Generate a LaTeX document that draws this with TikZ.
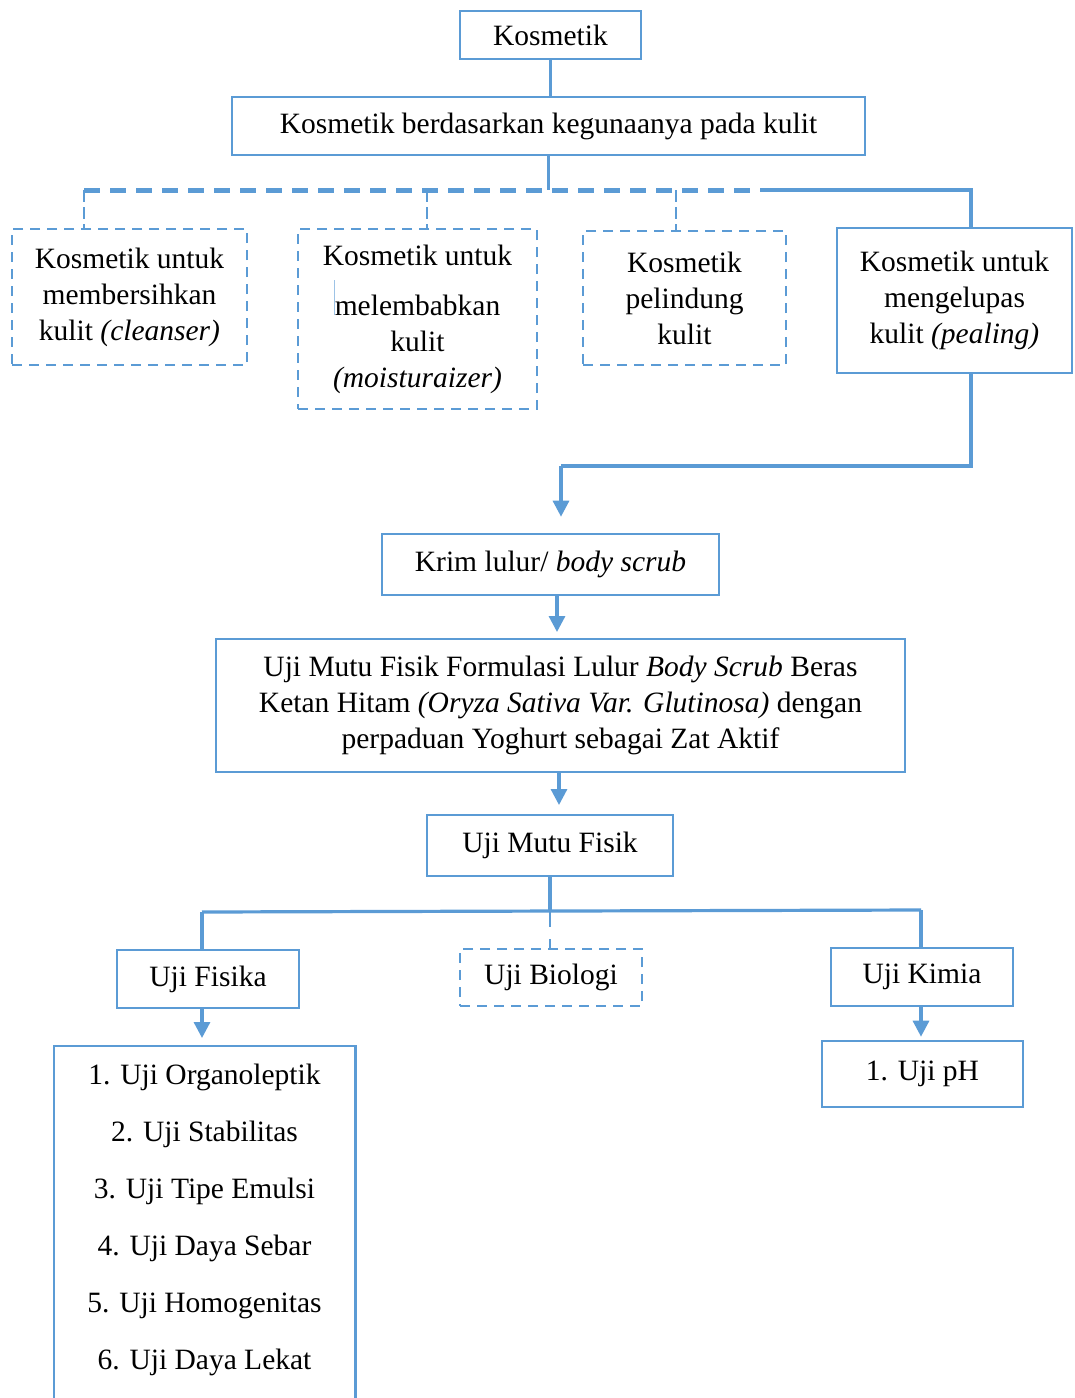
\documentclass[tikz,border=0pt]{standalone}
\usepackage{fontspec}
\setmainfont{Liberation Serif}
\usetikzlibrary{arrows.meta}
\definecolor{lineblue}{HTML}{5B9BD5}
\begin{document}
\begin{tikzpicture}[x = 1pt, y = -1pt,
    font = \fontsize{29.5}{36}\selectfont,
    box/.style = {draw = lineblue, line width = 2.6pt, align = center, inner sep = 2pt},
    dbox/.style = {box, dash pattern = on 10pt off 7pt},
    link/.style = {draw = lineblue, line width = 3.2pt},
    arr/.style = {link, -{Triangle[width = 16pt, length = 16pt]}}]
  \useasboundingbox (0,0) rectangle (1074,1398);

  % top of the tree
  \node (kos) [box, minimum width = 181, minimum height = 48] at (550.5,35) {Kosmetik};
  \node (keg) [box, minimum width = 633, minimum height = 58] at (548.5,126)
    {Kosmetik berdasarkan kegunaanya pada kulit};

  % four kinds of cosmetics
  \node (k1) [dbox, minimum width = 235, minimum height = 136] at (129.5,297)
    {Kosmetik untuk\\ membersihkan\\ kulit \textit{(cleanser)}};
  \node (k2) [dbox, minimum width = 239, minimum height = 180] at (417.5,319)
    {Kosmetik untuk\\[14pt] melembabkan\\ kulit\\ \textit{(moisturaizer)}};
  \node (k3) [dbox, minimum width = 203, minimum height = 134] at (684.5,298)
    {Kosmetik\\ pelindung\\ kulit};
  \node (k4) [box, minimum width = 235, minimum height = 145] at (954.5,300.5)
    {Kosmetik untuk\\ mengelupas\\ kulit \textit{(pealing)}};
  \draw [lineblue!60, line width = 0.8pt] (334,280) -- (334,315);

  \coordinate (barL) at (84,190);
  \coordinate (barM) at (760,190);
  \coordinate (barR) at (971,190);
  \draw [link] (kos.south) -- (kos.south |- keg.north);
  \draw [link] (keg.south) -- (keg.south |- barL);
  \draw [draw = lineblue, line width = 5pt, dash pattern = on 16pt off 10pt] (barL) -- (barM);
  \draw [link] (barM) -- (barR) -- (barR |- k4.north);
  \draw [draw = lineblue, line width = 1.4pt, dash pattern = on 12pt off 5pt]
    (barL) -- (barL |- k1.north);
  \draw [draw = lineblue, line width = 1.4pt, dash pattern = on 12pt off 5pt]
    (427,190) -- (427,229);
  \draw [draw = lineblue, line width = 1.4pt, dash pattern = on 12pt off 5pt]
    (676,190) -- (676,231);

  % middle column
  \node (krim) [box, minimum width = 337, minimum height = 61] at (550.5,564.5)
    {Krim lulur/ \textit{body scrub}};
  \node (judul) [box, minimum width = 689, minimum height = 133] at (560.5,705.5)
    {Uji Mutu Fisik Formulasi Lulur \textit{Body Scrub} Beras\\
     Ketan Hitam \textit{(Oryza Sativa Var. Glutinosa)} dengan\\
     perpaduan Yoghurt sebagai Zat Aktif};
  \node (umf) [box, minimum width = 246, minimum height = 61] at (550,845.5) {Uji Mutu Fisik};

  \coordinate (turn) at (561,466);
  \draw [link] (barR |- k4.south) |- (turn);
  \draw [arr, shorten >= 16pt] (turn) -- (turn |- krim.north);
  \draw [arr, shorten >= 7pt] (557,595) -- (557,639);
  \draw [arr, shorten >= 10pt] (judul.south -| 559,0) -- (559,815);

  % tests
  \node (fis) [box, minimum width = 182, minimum height = 58] at (208,979) {Uji Fisika};
  \node (bio) [dbox, minimum width = 182, minimum height = 57] at (551,977.5) {Uji Biologi};
  \node (kim) [box, minimum width = 182, minimum height = 58] at (922,977) {Uji Kimia};

  \coordinate (barF) at (202,912);
  \coordinate (barK) at (921,910);
  \draw [link] (umf.south) -- (umf.south |- barF);
  \draw [link] (barF) -- (barK);
  \draw [link] (barF) -- (barF |- fis.north);
  \draw [link] (barK) -- (barK |- kim.north);
  \draw [draw = lineblue, line width = 2pt, dash pattern = on 15pt off 12pt on 10pt off 20pt]
    (umf.south |- barF) -- (umf.south |- bio.north);

  % list box runs past the bottom edge
  \node (list) [align = center, inner sep = 2pt, anchor = north, minimum width = 301,
                minimum height = 348, font = \fontsize{29.5}{57}\selectfont] at (204.5,1046)
    {1. Uji Organoleptik\\ 2. Uji Stabilitas\\ 3. Uji Tipe Emulsi\\
     4. Uji Daya Sebar\\ 5. Uji Homogenitas\\ 6. Uji Daya Lekat};
  \draw [draw = lineblue, line width = 2.6pt]
    ([yshift = -20pt]list.south west) -- (list.north west)
    -- (list.north east) -- ([yshift = -20pt]list.south east);
  \node (ph) [box, minimum width = 201, minimum height = 66] at (922.5,1074) {1. Uji pH};

  \draw [arr, shorten >= 8pt] (barF |- fis.south) -- (barF |- list.north);
  \draw [arr, shorten >= 3pt] (barK |- kim.south) -- (barK |- ph.north);
\end{tikzpicture}
\end{document}
